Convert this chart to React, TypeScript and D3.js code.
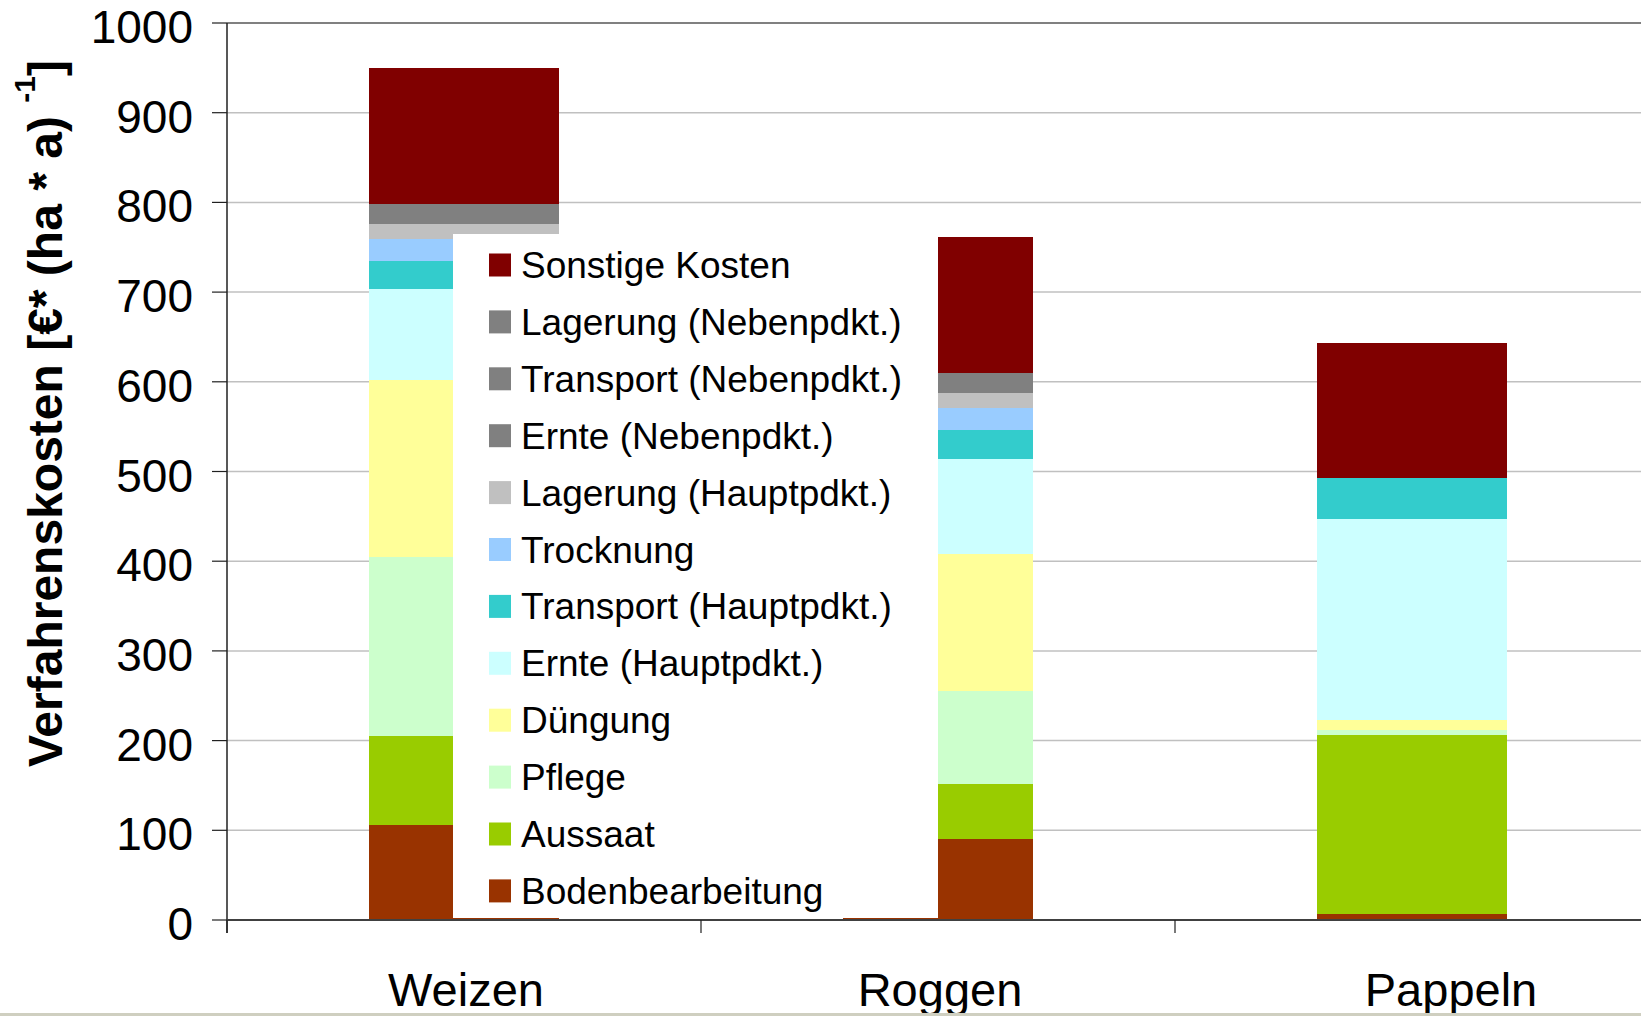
import React from "react";
import * as d3 from "d3";

const categories = ["Weizen", "Roggen", "Pappeln"];

// stack order bottom -> top
const seriesNames = [
  "Bodenbearbeitung",
  "Aussaat",
  "Pflege",
  "Düngung",
  "Ernte (Hauptpdkt.)",
  "Transport (Hauptpdkt.)",
  "Trocknung",
  "Lagerung (Hauptpdkt.)",
  "Ernte (Nebenpdkt.)",
  "Transport (Nebenpdkt.)",
  "Lagerung (Nebenpdkt.)",
  "Sonstige Kosten",
];

const seriesColors = [
  "#993300",
  "#99cc00",
  "#ccffcc",
  "#ffff99",
  "#ccffff",
  "#33cccc",
  "#99ccff",
  "#c0c0c0",
  "#808080",
  "#808080",
  "#808080",
  "#800000",
];

// values per series: [Weizen, Roggen, Pappeln]
const bodenbearbeitung = [106, 90, 7];
const aussaat = [99, 62, 199];
const pflege = [200, 103, 6];
const duengung = [197, 153, 11];
const ernteHaupt = [101, 106, 224];
const transportHaupt = [32, 32, 46];
const trocknung = [24, 25, 0];
const lagerungHaupt = [17, 17, 0];
const ernteNeben = [10, 10, 0];
const transportNeben = [6, 6, 0];
const lagerungNeben = [6, 6, 0];
const sonstige = [152, 151, 150];

const seriesValues = [
  bodenbearbeitung,
  aussaat,
  pflege,
  duengung,
  ernteHaupt,
  transportHaupt,
  trocknung,
  lagerungHaupt,
  ernteNeben,
  transportNeben,
  lagerungNeben,
  sonstige,
];

const yTicks = [0, 100, 200, 300, 400, 500, 600, 700, 800, 900, 1000];
const labelShift = [2, 2, 39];

export default function App() {
  React.useEffect(() => {
    document.body.style.margin = "0";
  }, []);

  const W = 1641;
  const H = 1016;
  const x0 = 227;
  const bandW = 474;
  const yBase = 920;
  const yTop = 23;

  const x = d3
    .scaleBand<string>()
    .domain(categories)
    .range([x0, x0 + bandW * categories.length])
    .paddingInner(0)
    .paddingOuter(0);
  const y = d3.scaleLinear().domain([0, 1000]).range([yBase, yTop]);
  const barW = 190;

  const rows = categories.map((c, i) => {
    const r: any = { cat: c };
    seriesNames.forEach((s, j) => (r[s] = seriesValues[j][i]));
    return r;
  });
  const stacked = d3.stack<any>().keys(seriesNames)(rows);

  const font = "'Liberation Sans', Arial, sans-serif";
  const legendNames = [...seriesNames].reverse();
  const legendColors = [...seriesColors].reverse();

  return (
    <svg width={W} height={H} style={{ display: "block" }} fontFamily={font}>
      <rect x={0} y={0} width={W} height={H} fill="#ffffff" />
      {/* gridlines */}
      {yTicks.slice(1).map((t) => (
        <line
          key={t}
          x1={x0}
          x2={W}
          y1={y(t)}
          y2={y(t)}
          stroke={t === 1000 ? "#808080" : "#c0c0c0"}
          strokeWidth={t === 1000 ? 2 : 1.5}
        />
      ))}
      {/* bars */}
      <g shapeRendering="crispEdges">
        {stacked.map((layer, j) =>
          layer.map((d, i) => {
            const h = y(d[0]) - y(d[1]);
            if (h <= 0) return null;
            const cx = (x(categories[i]) as number) + x.bandwidth() / 2;
            return (
              <rect
                key={j + "-" + i}
                x={cx - barW / 2}
                y={y(d[1])}
                width={barW}
                height={h}
                fill={seriesColors[j]}
              />
            );
          })
        )}
      </g>
      {/* legend */}
      <rect x={453} y={234} width={485} height={684} fill="#ffffff" />
      {legendNames.map((n, k) => (
        <g key={n} transform={`translate(489, ${253.5 + k * 56.9})`}>
          <rect x={0} y={0} width={22} height={23} fill={legendColors[k]} />
          <text x={32} y={24.5} fontSize={37} fill="#000">
            {n}
          </text>
        </g>
      ))}
      {/* y axis */}
      <line x1={x0} x2={x0} y1={yTop} y2={933} stroke="#202020" strokeWidth={1.5} />
      {yTicks.map((t) => (
        <g key={t}>
          <line x1={212} x2={x0} y1={y(t)} y2={y(t)} stroke="#202020" strokeWidth={1.2} />
          <text x={193} y={y(t) + 20} fontSize={46} textAnchor="end" fill="#000">
            {t}
          </text>
        </g>
      ))}
      {/* x axis */}
      <line x1={x0} x2={W} y1={yBase} y2={yBase} stroke="#404040" strokeWidth={2} />
      {categories.map((c) => (
        <line
          key={c}
          x1={x(c) as number}
          x2={x(c) as number}
          y1={yBase}
          y2={933}
          stroke="#202020"
          strokeWidth={1.2}
        />
      ))}
      {categories.map((c, i) => (
        <text
          key={c}
          x={(x(c) as number) + x.bandwidth() / 2 + labelShift[i]}
          y={1006}
          fontSize={47}
          textAnchor="middle"
          fill="#000"
        >
          {c}
        </text>
      ))}
      {/* y title */}
      <text transform="translate(62,767) rotate(-90)" fontSize={48} fontWeight="bold" fill="#000">
        {"Verfahrenskosten [€* (ha * a) "}
        <tspan dy={-27} fontSize={30}>
          -1
        </tspan>
        <tspan dy={27}>]</tspan>
      </text>
      {/* bottom border */}
      <rect x={0} y={1013} width={W} height={3} fill="#cfcfc0" />
    </svg>
  );
}
